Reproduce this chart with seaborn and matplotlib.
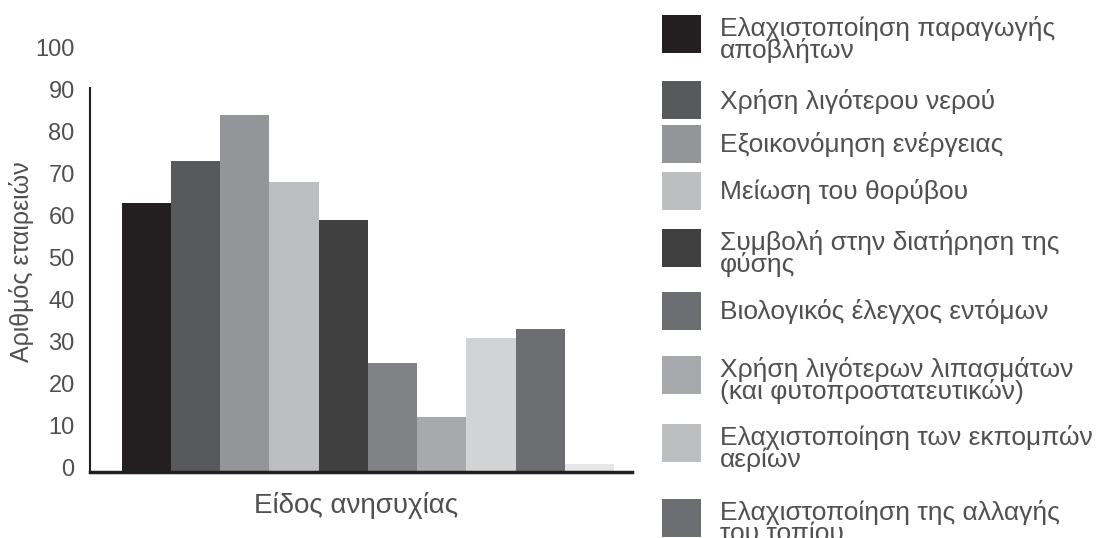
import matplotlib
matplotlib.use("Agg")

import matplotlib.pyplot as plt
import matplotlib.transforms as mtransforms
import seaborn as sns
import pandas as pd
from matplotlib.patches import Rectangle

# ==============================
# DATA
# ==============================
categories = [
    "Ελαχιστοποίηση παραγωγής\nαποβλήτων",
    "Χρήση λιγότερου νερού",
    "Εξοικονόμηση ενέργειας",
    "Μείωση του θορύβου",
    "Συμβολή στην διατήρηση της\nφύσης",
    "Βιολογικός έλεγχος εντόμων",
    "Χρήση λιγότερων λιπασμάτων\n(και φυτοπροστατευτικών)",
    "Ελαχιστοποίηση των εκπομπών\nαερίων",
    "Ελαχιστοποίηση της αλλαγής\nτου τοπίου",
    "Άλλο",
]
values = [64, 74, 85, 69, 60, 26, 13, 32, 34, 2]

bar_colors = ["#231f20", "#58595b", "#939598", "#bcbec0", "#404041",
              "#808285", "#a7a9ac", "#d1d3d4", "#6d6e71", "#e6e7e8"]
legend_colors = ["#231f20", "#58595b", "#939598", "#bcbec0", "#404041",
                 "#6d6e71", "#a7a9ac", "#bcbec0", "#6d6e71"]

y_ticks = [0, 10, 20, 30, 40, 50, 60, 70, 80, 90, 100]

# ==============================
# STYLE
# ==============================
sns.set_style("white")
plt.rcParams["font.family"] = ["Liberation Sans", "DejaVu Sans"]
TEXT = "#505052"

W, H = 1102, 538
AX_L, AX_R, AX_B, AX_T = 90, 632, 472, 52
fig = plt.figure(figsize=(W / 100, H / 100), dpi=100)
ax = fig.add_axes([AX_L / W, 1 - AX_B / H, (AX_R - AX_L) / W, (AX_B - AX_T) / H])

df = pd.DataFrame({"cat": categories, "val": values})
sns.barplot(data=df, x="cat", y="val", hue="cat", palette=bar_colors,
            legend=False, width=1.0, saturation=1, ax=ax, linewidth=0)

ax.set_xlim(-1.144, 9.866)
ax.set_ylim(0, 100)
ax.set_yticks(y_ticks)
ax.set_yticklabels([str(t) for t in y_ticks], fontsize=17, color=TEXT)
ax.tick_params(axis="y", length=0, pad=11)
ax.set_xticks([])

# tick labels sit a few pixels above their gridline in the original
shift = mtransforms.ScaledTranslation(0, 4 / 100, fig.dpi_scale_trans)
for lab in ax.get_yticklabels():
    lab.set_transform(lab.get_transform() + shift)

for s in ["top", "right"]:
    ax.spines[s].set_visible(False)
ax.spines["left"].set_bounds(0, 91.4)
ax.spines["left"].set_color("#231f20")
ax.spines["left"].set_linewidth(1.5)
ax.spines["bottom"].set_color("#231f20")
ax.spines["bottom"].set_linewidth(2.5)

ax.set_xlabel("Είδος ανησυχίας", fontsize=20, color=TEXT)
ax.xaxis.set_label_coords((356 - AX_L) / (AX_R - AX_L), -20 / (AX_B - AX_T))
ax.set_ylabel("Αριθμός εταιρειών", fontsize=18, color=TEXT)
ax.yaxis.set_label_coords(-56 / (AX_R - AX_L), 0.5)

# ==============================
# LEGEND (manual, irregular spacing)
# ==============================
sw_tops = [15, 81, 125, 172, 229, 292, 356, 424, 499]
SW = 38
for i, top in enumerate(sw_tops):
    fig.add_artist(Rectangle((662 / W, 1 - (top + SW) / H), 39 / W, SW / H,
                             transform=fig.transFigure,
                             facecolor=legend_colors[i], edgecolor="none"))
    label = categories[i]
    if "\n" in label:
        fig.text(720 / W, 1 - (top + 1) / H, label, fontsize=19, color=TEXT,
                 va="top", ha="left", linespacing=0.85)
    else:
        fig.text(720 / W, 1 - (top + SW / 2 + 1) / H, label, fontsize=19,
                 color=TEXT, va="center", ha="left")

fig.savefig("out.png", dpi=100)
